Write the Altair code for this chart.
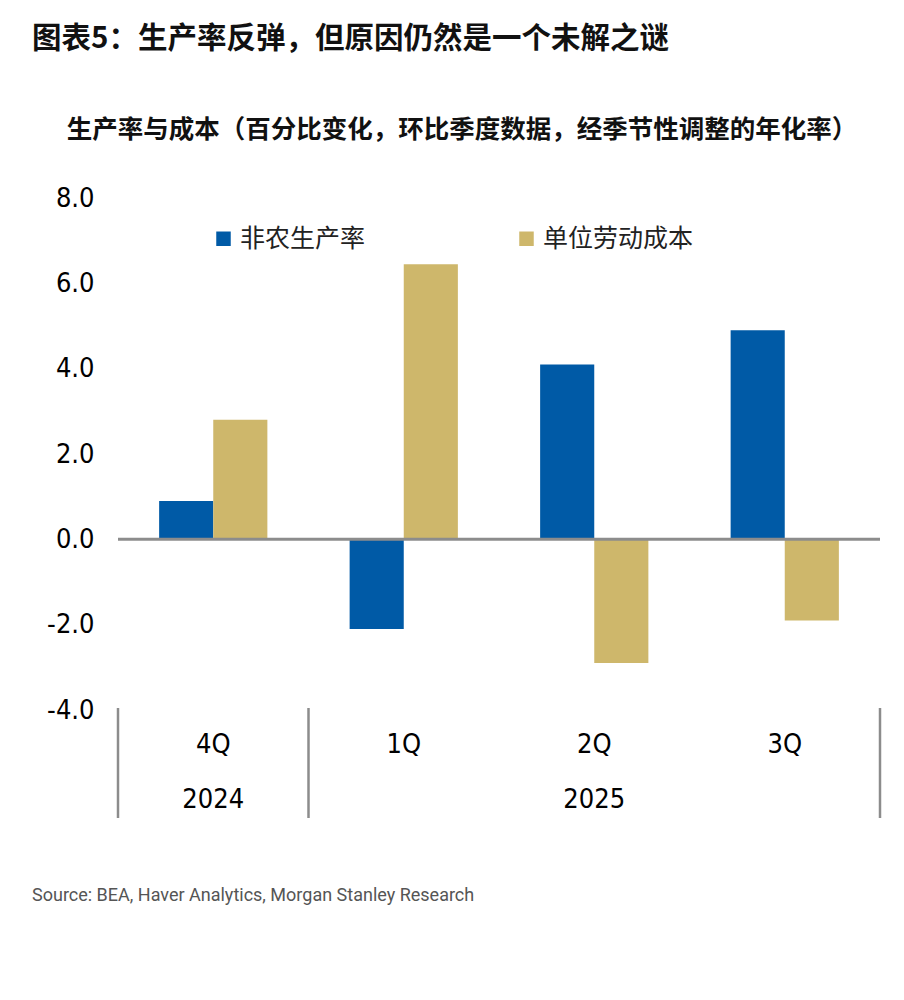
import altair as alt
import pandas as pd

# ---- data ----
quarters = ["4Q", "1Q", "2Q", "3Q"]
series_names = ["非农生产率", "单位劳动成本"]
productivity = [0.9, -2.1, 4.1, 4.9]
unit_labor_cost = [2.8, 6.45, -2.9, -1.9]
year_labels = ["2024", "2025"]
year_anchor_quarter = ["4Q", "2Q"]
y_ticks = [-4, -2, 0, 2, 4, 6, 8]

title_text = "图表5：生产率反弹，但原因仍然是一个未解之谜"
subtitle_text = "生产率与成本（百分比变化，环比季度数据，经季节性调整的年化率）"
source_text = "Source: BEA, Haver Analytics, Morgan Stanley Research"

colors = ["#005AA6", "#CEB76B"]

W, H = 762, 512
CJK = "Noto Sans CJK SC"
NUM = "DejaVu Sans Condensed, Liberation Sans Narrow, sans-serif"

rows = []
for q, p, u in zip(quarters, productivity, unit_labor_cost):
    rows.append({"quarter": q, "series": series_names[0], "value": p})
    rows.append({"quarter": q, "series": series_names[1], "value": u})
df = pd.DataFrame(rows)

xscale = alt.Scale(domain=quarters, paddingInner=0, paddingOuter=0)
yscale = alt.Scale(domain=[-4, 8], nice=False, zero=False)

bars = alt.Chart(df).mark_bar().encode(
    x=alt.X("quarter:N", scale=xscale, axis=None),
    xOffset=alt.XOffset("series:N", sort=series_names,
                        scale=alt.Scale(domain=series_names, paddingInner=0, paddingOuter=0.76)),
    y=alt.Y("value:Q", scale=yscale,
            axis=alt.Axis(values=y_ticks, domain=False, ticks=False, grid=False,
                          labelExpr="replace(format(datum.value, '.1f'), '\u2212', '-')",
                          labelFont=NUM, labelFontSize=27, labelColor="#000000",
                          labelPadding=24, title=None)),
    color=alt.Color("series:N", sort=series_names,
                    scale=alt.Scale(domain=series_names, range=colors),
                    legend=alt.Legend(orient="none", legendX=93, legendY=28,
                                      direction="horizontal", title=None,
                                      symbolType="square", symbolSize=210,
                                      symbolStrokeWidth=0, labelFont=CJK,
                                      labelFontSize=25, labelColor="#222222",
                                      labelOffset=4, columnPadding=148)),
)

zero = alt.Chart(pd.DataFrame({"v": [0]})).mark_rule(color="#8C8C8C", strokeWidth=3).encode(
    y=alt.Y("v:Q", scale=yscale), x=alt.value(0), x2=alt.value(W)
)

sep_left = alt.Chart(pd.DataFrame({"quarter": ["4Q", "1Q"]})).mark_rule(
    color="#8C8C8C", strokeWidth=2.5).encode(
    x=alt.X("quarter:N", scale=xscale, axis=None, bandPosition=0),
    y=alt.value(H - 2), y2=alt.value(H + 108),
)
sep_right = alt.Chart(pd.DataFrame({"quarter": ["3Q"]})).mark_rule(
    color="#8C8C8C", strokeWidth=2.5).encode(
    x=alt.X("quarter:N", scale=xscale, axis=None, bandPosition=1),
    y=alt.value(H - 2), y2=alt.value(H + 108),
)

qlabels = alt.Chart(pd.DataFrame({"quarter": quarters})).mark_text(
    font=NUM, fontSize=27, color="#000000", baseline="middle").encode(
    x=alt.X("quarter:N", scale=xscale, axis=None, bandPosition=0.5),
    y=alt.value(H + 35), text="quarter:N",
)

ylabels = alt.Chart(pd.DataFrame({"quarter": year_anchor_quarter, "year": year_labels})).mark_text(
    font=NUM, fontSize=27, color="#000000", baseline="middle").encode(
    x=alt.X("quarter:N", scale=xscale, axis=None, bandPosition=0.5),
    y=alt.value(H + 90), text="year:N",
)

one = pd.DataFrame({"t": [title_text], "s": [subtitle_text], "src": [source_text]})

title = alt.Chart(one).mark_text(font=CJK, fontSize=29.5, fontWeight="bold", color="#111111",
                                 align="left", baseline="middle").encode(
    x=alt.value(-86), y=alt.value(-159), text="t:N")
subtitle = alt.Chart(one).mark_text(font=CJK, fontSize=25.5, fontWeight="bold", color="#111111",
                                    align="center", baseline="middle").encode(
    x=alt.value(344), y=alt.value(-68), text="s:N")
source = alt.Chart(one).mark_text(font="Roboto", fontSize=18, color="#555555",
                                  align="left", baseline="middle").encode(
    x=alt.value(-86), y=alt.value(698), text="src:N")

chart = alt.layer(bars, zero, sep_left, sep_right, qlabels, ylabels, title, subtitle, source).properties(
    width=W, height=H,
    background="#ffffff",
    autosize=alt.AutoSizeParams(type="none"),
    padding={"left": 110, "top": 190, "right": 16, "bottom": 260},
).configure_view(stroke=None)

chart.save("out.html", embed_options={"renderer": "svg", "actions": False})
